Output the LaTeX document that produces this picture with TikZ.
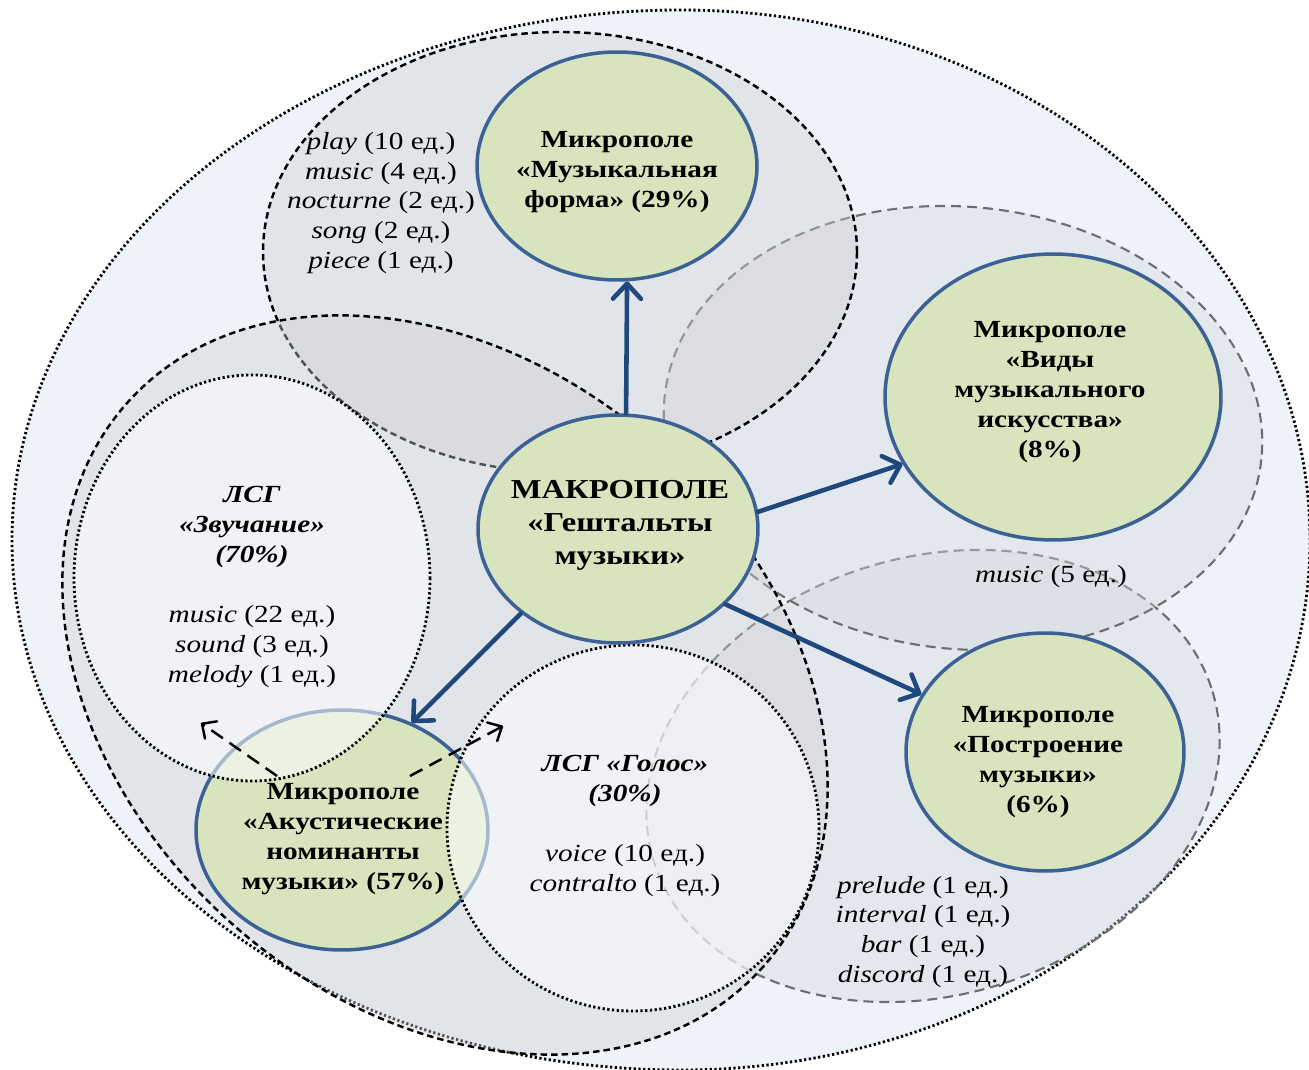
\documentclass[tikz,border=0pt]{standalone}
\usepackage{fontspec}
\setmainfont{Liberation Serif}[FakeStretch=1.19]
\usetikzlibrary{shapes.geometric,arrows.meta}

\definecolor{outerfill}{HTML}{EEF2F9}
\definecolor{zonefill}{HTML}{CFCFD3}
\definecolor{zonefillb}{HTML}{D3D8DE}
\definecolor{fieldgreen}{HTML}{D7E4BD}
\definecolor{fieldline}{HTML}{3C6195}
\definecolor{arrowblue}{HTML}{1F497D}
\definecolor{dashgray}{HTML}{6E6E6E}

\newcommand\fldfont{\fontsize{14}{17}\selectfont\bfseries}
\newcommand\wrdfont{\fontsize{14}{17}\selectfont}
\newcommand\macfont{\fontsize{15.6}{18.8}\selectfont\bfseries}

\begin{document}
\begin{tikzpicture}[x=0.02cm, y=-0.02cm,
  zone/.style={fill=zonefill, fill opacity=0.4},
  zoneb/.style={fill=zonefillb, fill opacity=0.4},
  blackdash/.style={draw=black, line width=1.4pt, dash pattern=on 0.13cm off 0.08cm},
  graydash/.style={draw=dashgray, line width=1.2pt, dash pattern=on 0.2cm off 0.12cm},
  dotline/.style={draw=black, line width=1.6pt, dash pattern=on 0.045cm off 0.05cm},
  lsg/.style={dotline, fill=white, fill opacity=0.55},
  field/.style={ellipse, draw=fieldline, line width=2pt, fill=fieldgreen,
    inner sep=0pt, align=center, font=\fldfont},
  fieldtext/.style={align=center, font=\fldfont, inner sep=0pt},
  words/.style={align=center, font=\wrdfont, inner sep=0pt},
  mainarrow/.style={draw=arrowblue, line width=2.6pt, line cap=round,
    -{Straight Barb[length=3mm, width=5.6mm, line cap=round, line join=round]}},
  hintarrow/.style={draw=black, line width=1.4pt, dash pattern=on 0.28cm off 0.16cm,
    -{Straight Barb[length=2.2mm, width=4.2mm, line cap=round, line join=round]}}
]
\useasboundingbox (0,0) rectangle (1309,1070);

% overall macrofield: the left half is a little wider than the right half
% (y runs downwards here, so angle -90 is the top)
\draw[dotline, fill=outerfill]
  (681,10) arc[start angle=-90, end angle=-270, x radius=669, y radius=530]
           arc[start angle=90, end angle=-90, x radius=629, y radius=530] -- cycle;

% microfield zones
\path[zoneb, graydash] (933,776) ellipse [x radius=292, y radius=219, rotate=16.8];
\path[zoneb, graydash] (963,428) ellipse [x radius=300, y radius=221, rotate=-6];
\path[zone, blackdash] (560,252) ellipse [x radius=297, y radius=220];
\path[zone, blackdash] (445,685) ellipse [x radius=425, y radius=320, rotate=-41.4];

% acoustic microfield sits under the two lexical-semantic groups
\node[field, minimum width=5.84cm, minimum height=4.8cm] (acu) at (342,830) {};

% lexical-semantic groups
\path[lsg] (252,578) ellipse [x radius=178, y radius=203];
\path[lsg] (633,828) ellipse [x radius=186, y radius=183];

\node[fieldtext] (acutext) at (343,839)
  {Микрополе\\«Акустические\\номинанты\\музыки» (57\%)};

\coordinate (hintAs) at (277,776);
\coordinate (hintAe) at (201,723);
\coordinate (hintBs) at (410,776);
\coordinate (hintBe) at (503,726);
\draw[hintarrow] (hintAs) -- (hintAe);
\draw[hintarrow] (hintBs) -- (hintBe);

% microfields
\node[field, minimum width=5.6cm, minimum height=4.56cm] (forma) at (617,166) {};
\node[fieldtext] (formatext) at (617,172) {Микрополе\\«Музыкальная\\форма» (29\%)};
\node[field, minimum width=6.72cm, minimum height=5.72cm] (vidy) at (1053,397) {};
\node[fieldtext] (vidytext) at (1050,392) {Микрополе\\«Виды\\музыкального\\искусства»\\(8\%)};
\node[field, minimum width=5.56cm, minimum height=4.76cm] (postr) at (1045,752) {};
\node[fieldtext] (postrtext) at (1038,762) {Микрополе\\«Построение\\музыки»\\(6\%)};
\node[field, minimum width=5.6cm, minimum height=4.56cm] (macro) at (618,529) {};
\node[fieldtext, font=\macfont] (macrotext) at (620,525) {МАКРОПОЛЕ\\«Гештальты\\музыки»};

% links from the macrofield
\draw[mainarrow] (macro.86) -- (forma.275);
\draw[mainarrow] (macro.7) -- (vidy.204);
\draw[mainarrow] (macro.-35) -- (postr.155);
\draw[mainarrow] (macro.221) -- (acu.57);

% word lists
\node[words] (formwords) at (381,203)
  {\textit{play} (10 ед.)\\\textit{music} (4 ед.)\\\textit{nocturne} (2 ед.)\\\textit{song} (2 ед.)\\\textit{piece} (1 ед.)};
\node[words] (zvuch) at (252,587)
  {\textbf{\textit{ЛСГ}}\\\textbf{\textit{«Звучание»}}\\\textbf{\textit{(70\%)}}\\[17pt]
   \textit{music} (22 ед.)\\\textit{sound} (3 ед.)\\\textit{melody} (1 ед.)};
\node[words] (golos) at (625,826)
  {\textbf{\textit{ЛСГ «Голос»}}\\\textbf{\textit{(30\%)}}\\[17pt]
   \textit{voice} (10 ед.)\\\textit{contralto} (1 ед.)};
\node[words] (vidywords) at (1051,577) {\textit{music} (5 ед.)};
\node[words] (postrwords) at (923,932)
  {\textit{prelude} (1 ед.)\\\textit{interval} (1 ед.)\\\textit{bar} (1 ед.)\\\textit{discord} (1 ед.)};
\end{tikzpicture}
\end{document}
